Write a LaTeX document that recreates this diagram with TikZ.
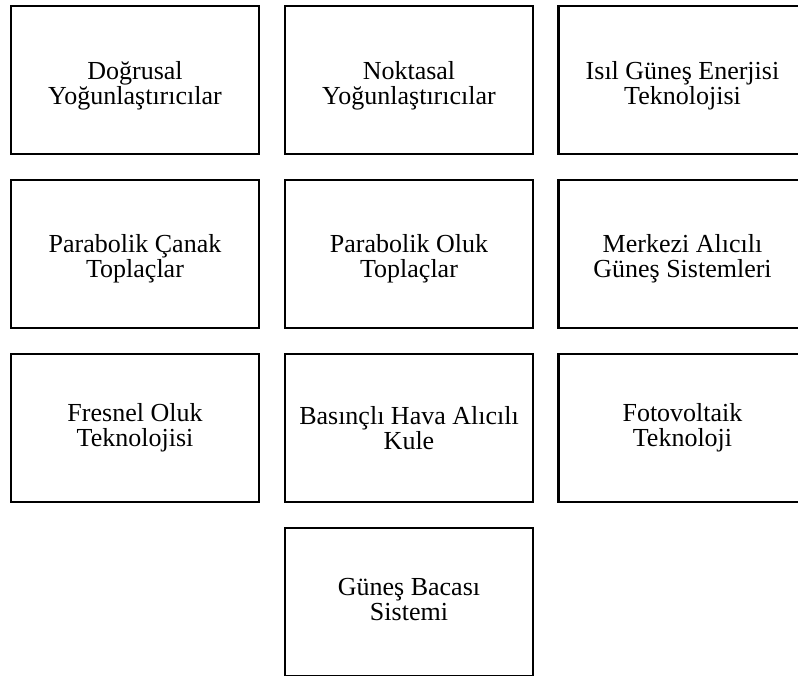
\documentclass[tikz,border=0pt]{standalone}
\usepackage{fontspec}
\setmainfont{Liberation Serif}
\begin{document}
\begin{tikzpicture}[x=1pt,y=-1pt,
  box/.style={draw=black, line width=2.4pt, rectangle, minimum width=248pt, minimum height=148pt,
    inner sep=0pt},
  txt/.style={inner sep=0pt, align=center, font=\fontsize{26}{25}\selectfont}]
\useasboundingbox (0,0) rectangle (798,675);
\clip (0,0) rectangle (798,675);
\node[box] (dog) at (135,80) {};
\node[box] (nok) at (409,80) {};
\node[box] (isil) at (682.5,80) {};
\node[box] (canak) at (135,254) {};
\node[box] (oluk) at (409,254) {};
\node[box] (merk) at (682.5,254) {};
\node[box] (fres) at (135,428) {};
\node[box] (bas) at (409,428) {};
\node[box] (foto) at (682.5,428) {};
\node[box] (baca) at (409,602) {};
\node[txt] (tdog) at ([yshift=-6pt]dog.center) {Doğrusal\\Yoğunlaştırıcılar};
\node[txt] (tnok) at ([yshift=-6pt]nok.center) {Noktasal\\Yoğunlaştırıcılar};
\node[txt] (tisil) at ([yshift=-6pt]isil.center) {Isıl Güneş Enerjisi\\Teknolojisi};
\node[txt] (tcanak) at ([yshift=-4.5pt]canak.center) {Parabolik Çanak\\Toplaçlar};
\node[txt] (toluk) at ([yshift=-4.5pt]oluk.center) {Parabolik Oluk\\Toplaçlar};
\node[txt] (tmerk) at ([yshift=-5pt]merk.center) {Merkezi Alıcılı\\Güneş Sistemleri};
\node[txt] (tfres) at (fres.center) {Fresnel Oluk\\Teknolojisi};
\node[txt] (tbas) at (bas.center) {Basınçlı Hava Alıcılı\\Kule};
\node[txt] (tfoto) at (foto.center) {Fotovoltaik\\Teknoloji};
\node[txt] (tbaca) at ([yshift=2pt]baca.center) {Güneş Bacası\\Sistemi};
\end{tikzpicture}
\end{document}
